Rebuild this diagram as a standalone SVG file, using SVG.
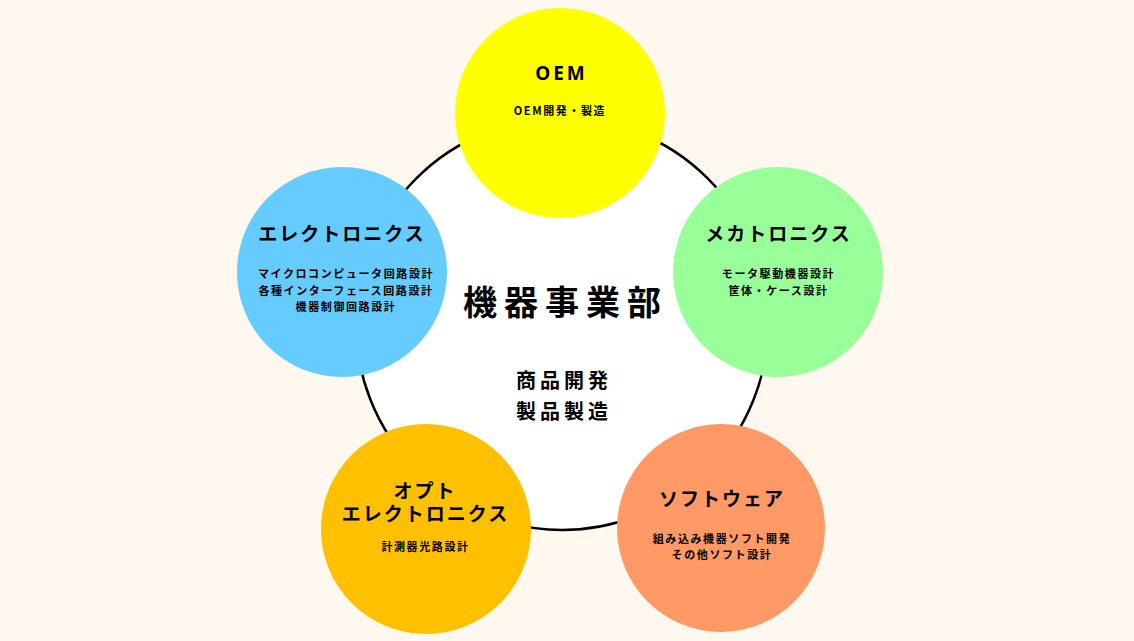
<svg xmlns="http://www.w3.org/2000/svg" width="1134" height="641" viewBox="0 0 1134 641">
<style>
text{font-family:"Noto Sans CJK JP","Noto Sans",sans-serif;font-weight:700;fill:#000;text-anchor:middle}
.t{font-size:19px;letter-spacing:2px}
.s{font-size:11px;letter-spacing:1.6px}
.big{font-size:34px;letter-spacing:7px}
.mid{font-size:20px;letter-spacing:4px}
</style>
<rect width="1134" height="641" fill="#FFF8EE"/>
<g id="center">
<circle cx="562" cy="324" r="206" fill="#FFFFFF" stroke="#000" stroke-width="2.5"/>
<text class="big" x="565.5" y="315">機器事業部</text>
<text class="mid" x="564" y="388">商品開発</text>
<text class="mid" x="564" y="419">製品製造</text>
</g>
<g id="connectors"></g>
<g id="oem">
<circle cx="560" cy="113" r="105" fill="#FFFF00"/>
<text class="t" x="561.5" y="80" style="font-family:'Noto Sans','Noto Sans CJK JP',sans-serif;letter-spacing:3px">OEM</text>
<text class="s" x="560" y="115">OEM開発・製造</text>
</g>
<g id="electronics">
<circle cx="342" cy="272" r="105" fill="#66CCFF"/>
<text class="t" x="342" y="241">エレクトロニクス</text>
<text class="s" x="346" y="278">マイクロコンピュータ回路設計</text>
<text class="s" x="346" y="295">各種インターフェース回路設計</text>
<text class="s" x="346" y="311">機器制御回路設計</text>
</g>
<g id="mechatronics">
<circle cx="778" cy="272" r="105" fill="#99FF99"/>
<text class="t" x="778.5" y="241">メカトロニクス</text>
<text class="s" x="778.5" y="278">モータ駆動機器設計</text>
<text class="s" x="778.5" y="295">筐体・ケース設計</text>
</g>
<g id="opto">
<circle cx="426" cy="529" r="105" fill="#FFC000"/>
<text class="t" x="425" y="498">オプト</text>
<text class="t" x="425.5" y="521">エレクトロニクス</text>
<text class="s" x="425.5" y="551">計測器光路設計</text>
</g>
<g id="software">
<circle cx="721" cy="528" r="104" fill="#FF9966"/>
<text class="t" x="722" y="506">ソフトウェア</text>
<text class="s" x="722" y="543">組み込み機器ソフト開発</text>
<text class="s" x="722" y="559">その他ソフト設計</text>
</g>
</svg>
